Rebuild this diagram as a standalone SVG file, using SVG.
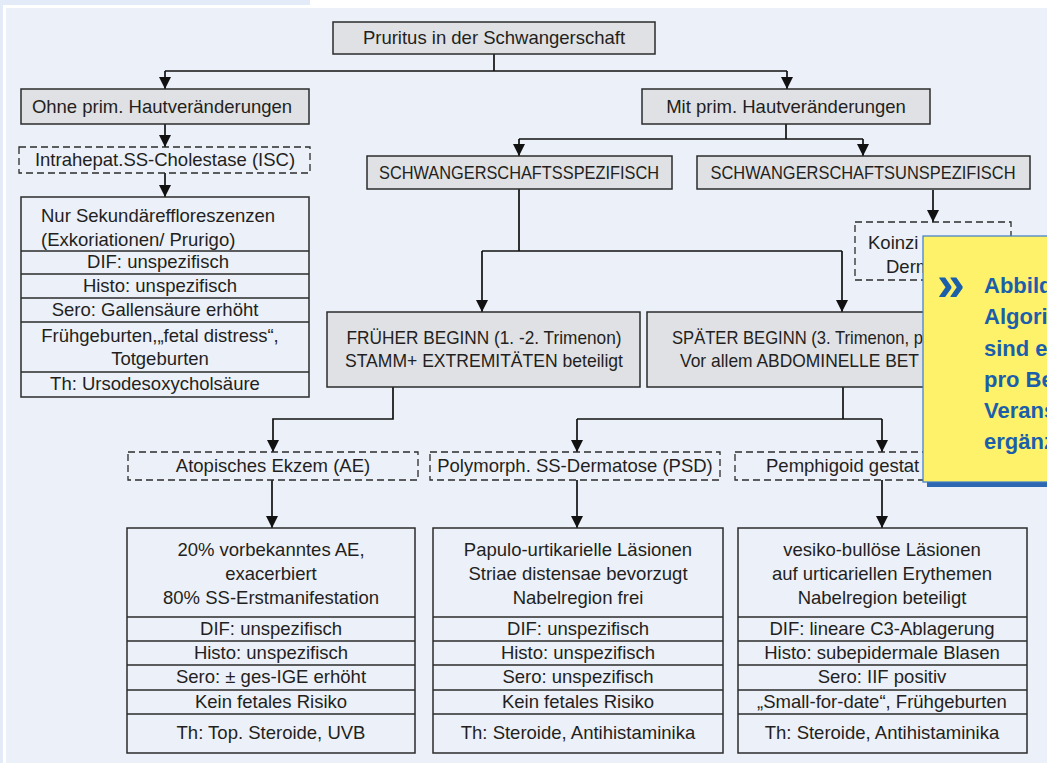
<svg xmlns="http://www.w3.org/2000/svg" width="1047" height="763" viewBox="0 0 1047 763">
<defs>
<marker id="ah" viewBox="0 0 12 12" refX="12" refY="6" markerWidth="12" markerHeight="12" markerUnits="userSpaceOnUse" orient="auto"><path d="M0,0 L12,6 L0,12 z" fill="#111"/></marker>
</defs>
<style>
text { font-family: "Liberation Sans", Arial, sans-serif; font-size: 18.5px; fill: #231f20; }
.c { text-anchor: middle; }
.box { fill: #e0e1e5; stroke: #2b2b2b; stroke-width: 1.5; }
.dash { fill: none; stroke: #2b2b2b; stroke-width: 1.3; stroke-dasharray: 7 4; }
.tbl { fill: none; stroke: #2b2b2b; stroke-width: 1.5; }
.row { stroke: #2b2b2b; stroke-width: 1.3; }
#connectors path { fill: none; stroke: #111; stroke-width: 1.7; }
#note text { font-weight: bold; fill: #1b5faa; font-size: 22px; }
</style>
<rect width="1047" height="763" fill="#ffffff"/>
<rect x="0" y="0" width="310" height="5" fill="#e3eaf8"/>
<rect x="0" y="0" width="3" height="763" fill="#e3eaf8"/>
<rect x="6" y="8" width="1041" height="755" fill="#ecf0f9"/>

<g id="connectors">
<path d="M494,54 V71 M165,71 H787"/>
<path d="M165,71 V89" marker-end="url(#ah)"/>
<path d="M787,71 V89" marker-end="url(#ah)"/>
<path d="M165,124 V147" marker-end="url(#ah)"/>
<path d="M165,173 V197" marker-end="url(#ah)"/>
<path d="M786,124 V139 M519,139 H863"/>
<path d="M519,139 V156" marker-end="url(#ah)"/>
<path d="M863,139 V156" marker-end="url(#ah)"/>
<path d="M519,189 V251 M482,251 H842"/>
<path d="M482,251 V312" marker-end="url(#ah)"/>
<path d="M842,251 V312" marker-end="url(#ah)"/>
<path d="M933,190 V222" marker-end="url(#ah)"/>
<path d="M393,387 V419 H273 V452" marker-end="url(#ah)"/>
<path d="M843,387 V419 M577,419 H882"/>
<path d="M577,419 V452" marker-end="url(#ah)"/>
<path d="M882,419 V452" marker-end="url(#ah)"/>
<path d="M272,480 V528" marker-end="url(#ah)"/>
<path d="M577,480 V528" marker-end="url(#ah)"/>
<path d="M882,480 V528" marker-end="url(#ah)"/>
</g>

<g id="n-pruritus"><rect class="box" x="333" y="22" width="322" height="32"/><text class="c" x="494" y="44">Pruritus in der Schwangerschaft</text></g>
<g id="n-ohne"><rect class="box" x="21" y="89" width="288" height="35"/><text class="c" x="162" y="113">Ohne prim. Hautveränderungen</text></g>
<g id="n-mit"><rect class="box" x="642" y="89" width="288" height="35"/><text class="c" x="786" y="113">Mit prim. Hautveränderungen</text></g>
<g id="n-isc"><rect class="dash" x="19" y="147" width="291" height="26"/><text class="c" x="165" y="166">Intrahepat.SS-Cholestase (ISC)</text></g>
<g id="n-isc-tab">
<rect class="tbl" x="21" y="197" width="288" height="200"/>
<path class="row" d="M21,251 H309 M21,274 H309 M21,298 H309 M21,322 H309 M21,372 H309"/>
<text x="41" y="222">Nur Sekundäreffloreszenzen</text>
<text x="41" y="246">(Exkoriationen/ Prurigo)</text>
<text class="c" x="158" y="268">DIF: unspezifisch</text>
<text class="c" x="160" y="292">Histo: unspezifisch</text>
<text class="c" x="155" y="316">Sero: Gallensäure erhöht</text>
<text class="c" x="160" y="342">Frühgeburten,„fetal distress“,</text>
<text class="c" x="160" y="365">Totgeburten</text>
<text class="c" x="155" y="390">Th: Ursodesoxycholsäure</text>
</g>
<g id="n-spez"><rect class="box" x="367" y="156" width="305" height="33"/><text class="c" x="519" y="179" textLength="280" lengthAdjust="spacingAndGlyphs">SCHWANGERSCHAFTSSPEZIFISCH</text></g>
<g id="n-unspez"><rect class="box" x="697" y="156" width="333" height="33"/><text class="c" x="863" y="179" textLength="305" lengthAdjust="spacingAndGlyphs">SCHWANGERSCHAFTSUNSPEZIFISCH</text></g>
<g id="n-koinz"><rect class="dash" x="855" y="222" width="156" height="58"/><text x="868" y="249">Koinzi</text><text x="886" y="273">Derm</text></g>
<g id="n-frueh"><rect class="box" x="327" y="312" width="313" height="75"/>
<text class="c" x="484" y="344" textLength="275" lengthAdjust="spacingAndGlyphs">FRÜHER BEGINN (1. -2. Trimenon)</text>
<text class="c" x="484" y="367" textLength="278" lengthAdjust="spacingAndGlyphs">STAMM+ EXTREMITÄTEN beteiligt</text></g>
<g id="n-spaet"><rect class="box" x="647" y="312" width="383" height="75"/>
<text x="672" y="344" textLength="251" lengthAdjust="spacingAndGlyphs">SPÄTER BEGINN (3. Trimenon, p</text>
<text x="680" y="367" textLength="239" lengthAdjust="spacingAndGlyphs">Vor allem ABDOMINELLE BET</text></g>
<g id="n-ae"><rect class="dash" x="128" y="452" width="290" height="28"/><text class="c" x="273" y="472">Atopisches Ekzem (AE)</text></g>
<g id="n-psd"><rect class="dash" x="430" y="452" width="290" height="28"/><text class="c" x="575" y="472">Polymorph. SS-Dermatose (PSD)</text></g>
<g id="n-pg"><rect class="dash" x="735" y="452" width="290" height="28"/><text x="766" y="472">Pemphigoid gestat</text></g>

<g id="n-ae-tab">
<rect class="tbl" x="127" y="528" width="288" height="225"/>
<path class="row" d="M127,617 H415 M127,641 H415 M127,665 H415 M127,690 H415 M127,714 H415"/>
<text class="c" x="271" y="556">20% vorbekanntes AE,</text>
<text class="c" x="271" y="580">exacerbiert</text>
<text class="c" x="271" y="604">80% SS-Erstmanifestation</text>
<text class="c" x="271" y="635">DIF: unspezifisch</text>
<text class="c" x="271" y="659">Histo: unspezifisch</text>
<text class="c" x="271" y="683">Sero: ± ges-IGE erhöht</text>
<text class="c" x="271" y="708">Kein fetales Risiko</text>
<text class="c" x="271" y="739">Th: Top. Steroide, UVB</text>
</g>
<g id="n-psd-tab">
<rect class="tbl" x="433" y="528" width="290" height="225"/>
<path class="row" d="M433,617 H723 M433,641 H723 M433,665 H723 M433,690 H723 M433,714 H723"/>
<text class="c" x="578" y="556">Papulo-urtikarielle Läsionen</text>
<text class="c" x="578" y="580">Striae distensae bevorzugt</text>
<text class="c" x="578" y="604">Nabelregion frei</text>
<text class="c" x="578" y="635">DIF: unspezifisch</text>
<text class="c" x="578" y="659">Histo: unspezifisch</text>
<text class="c" x="578" y="683">Sero: unspezifisch</text>
<text class="c" x="578" y="708">Kein fetales Risiko</text>
<text class="c" x="578" y="739">Th: Steroide, Antihistaminika</text>
</g>
<g id="n-pg-tab">
<rect class="tbl" x="738" y="528" width="289" height="225"/>
<path class="row" d="M738,617 H1027 M738,641 H1027 M738,665 H1027 M738,690 H1027 M738,714 H1027"/>
<text class="c" x="882" y="556">vesiko-bullöse Läsionen</text>
<text class="c" x="882" y="580">auf urticariellen Erythemen</text>
<text class="c" x="882" y="604">Nabelregion beteiligt</text>
<text class="c" x="882" y="635">DIF: lineare C3-Ablagerung</text>
<text class="c" x="882" y="659">Histo: subepidermale Blasen</text>
<text class="c" x="882" y="683">Sero: IIF positiv</text>
<text class="c" x="882" y="708">„Small-for-date“, Frühgeburten</text>
<text class="c" x="882" y="739">Th: Steroide, Antihistaminika</text>
</g>

<g id="note">
<rect x="927" y="241" width="130" height="246" fill="#2d66b1"/>
<rect x="923" y="236" width="130" height="246" fill="#fff26b" stroke="#3a7bc8" stroke-width="1.2"/>
<text x="937" y="300" style="font-size:50px">»</text>
<text x="984" y="293">Abbild</text>
<text x="984" y="324">Algori</text>
<text x="984" y="356">sind e</text>
<text x="984" y="387">pro Be</text>
<text x="984" y="418">Verans</text>
<text x="984" y="449">ergänz</text>
</g>
</svg>
